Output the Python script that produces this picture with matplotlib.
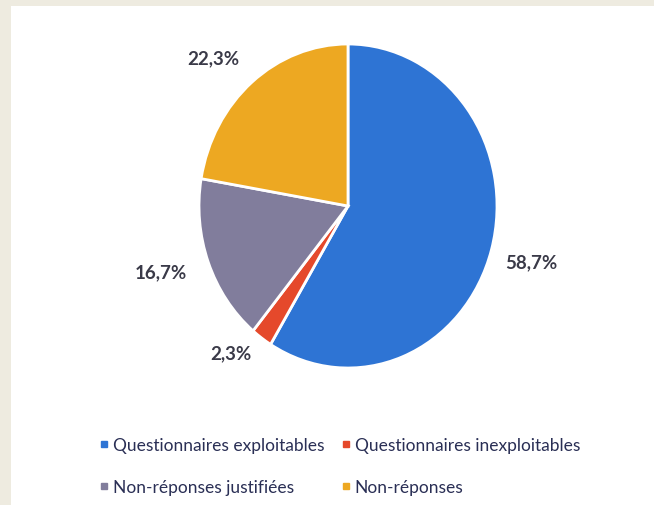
import numpy as np
import matplotlib
matplotlib.use("Agg")
import matplotlib.pyplot as plt
from matplotlib.patches import Rectangle
from matplotlib.lines import Line2D

categories = ["Questionnaires exploitables", "Questionnaires inexploitables",
              "Non-réponses justifiées", "Non-réponses"]
values = [58.7, 2.3, 16.7, 22.3]
labels = ["58,7%", "2,3%", "16,7%", "22,3%"]
colors = ["#2E74D4", "#E5492B", "#817D9C", "#EDA822"]

W, H = 654, 506
fig = plt.figure(figsize=(W / 100, H / 100), dpi=100)
fig.patch.set_facecolor("#EEEBE0")
fig.patches.append(Rectangle((11 / W, 0), 1 - 11 / W, 1 - 7 / H, transform=fig.transFigure,
                             facecolor="white", edgecolor="none", zorder=0))

plt.rcParams["font.family"] = ["Lato", "DejaVu Sans"]

cx, cy, rx, ry = 348, 207, 149, 162
A, B = 2.0, 1.5
ax = fig.add_axes([(cx - rx * A) / W, (H - cy - ry * B) / H, 2 * rx * A / W, 2 * ry * B / H])
ax.set_zorder(1)
wedges, _ = ax.pie(values, colors=colors, startangle=90, counterclock=False, radius=1,
                   wedgeprops=dict(edgecolor="white", linewidth=2))
ax.set_aspect("auto")
ax.set_xlim(-A, A)
ax.set_ylim(-B, B)
ax.axis("off")

# label radial distance and angular offset per wedge (layout only)
label_dist = [1.28, 1.20, 1.32, 1.29]
label_shift = [0, -5.5, -2.5, 4.5]
for w, lab, d, s in zip(wedges, labels, label_dist, label_shift):
    ang = np.deg2rad((w.theta1 + w.theta2) / 2 + s)
    ax.text(d * np.cos(ang), d * np.sin(ang), lab, ha="center", va="center",
            fontsize=13.5, fontweight="bold", color="#3A3A48")

handles = [Line2D([], [], marker="s", linestyle="none", markersize=5,
                  markerfacecolor=c, markeredgecolor=c) for c in colors]
order = [0, 2, 1, 3]  # fill legend row by row
leg = fig.legend([handles[i] for i in order], [categories[i] for i in order],
                 ncol=2, loc="upper left",
                 bbox_to_anchor=(91 / W, 1 - 429 / H), frameon=False,
                 fontsize=12.5, handlelength=0.5, handletextpad=0.25,
                 columnspacing=1.0, labelspacing=1.5, borderpad=0)
for t in leg.get_texts():
    t.set_color("#2A2F55")

fig.savefig("out.png", dpi=100, facecolor=fig.get_facecolor())
